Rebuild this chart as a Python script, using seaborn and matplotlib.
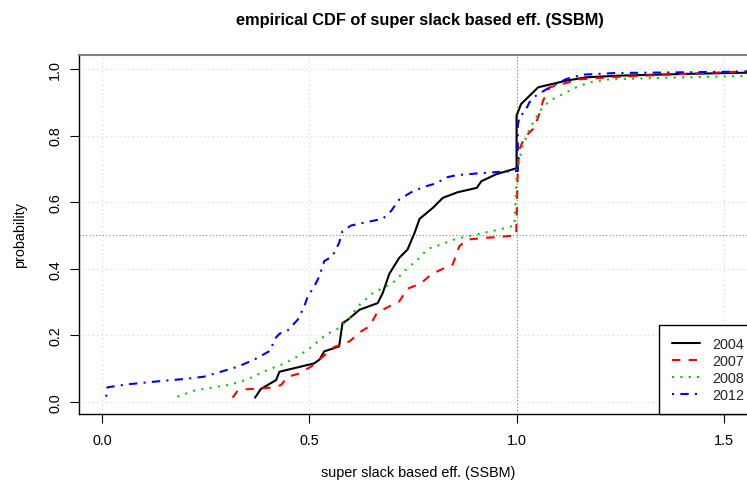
import matplotlib
matplotlib.use("Agg")
import matplotlib.pyplot as plt
import seaborn as sns
import pandas as pd

# Empirical CDF knots of super slack based efficiency (SSBM) per year
x_2004 = [0.369, 0.383, 0.42, 0.428, 0.512, 0.525, 0.536, 0.572, 0.58, 0.593, 0.621, 0.665,
          0.677, 0.693, 0.717, 0.737, 0.754, 0.766, 0.798, 0.822, 0.858, 0.904, 0.915, 0.951,
          1.0, 1.0, 1.011, 1.04, 1.052, 1.12, 1.168, 1.249, 1.4, 1.6]
p_2004 = [0.013, 0.039, 0.066, 0.091, 0.116, 0.128, 0.152, 0.167, 0.237, 0.247, 0.277, 0.297,
          0.327, 0.385, 0.433, 0.458, 0.508, 0.55, 0.583, 0.613, 0.630, 0.643, 0.663, 0.684,
          0.702, 0.86, 0.895, 0.93, 0.945, 0.965, 0.975, 0.98, 0.985, 0.99]

x_2007 = [0.315, 0.327, 0.347, 0.383, 0.415, 0.432, 0.448, 0.472, 0.504, 0.528, 0.56, 0.597,
          0.625, 0.645, 0.663, 0.685, 0.717, 0.737, 0.77, 0.794, 0.822, 0.846, 0.862, 0.882,
          0.927, 0.999, 1.003, 1.007, 1.019, 1.043, 1.056, 1.064, 1.08, 1.12, 1.152, 1.225,
          1.4, 1.6]
p_2007 = [0.013, 0.034, 0.038, 0.041, 0.044, 0.051, 0.076, 0.084, 0.106, 0.131, 0.165, 0.182,
          0.212, 0.227, 0.267, 0.282, 0.302, 0.34, 0.357, 0.383, 0.4, 0.413, 0.468, 0.488,
          0.493, 0.5, 0.699, 0.759, 0.794, 0.824, 0.869, 0.905, 0.945, 0.958, 0.969, 0.975,
          0.985, 0.995]

x_2008 = [0.182, 0.222, 0.263, 0.303, 0.335, 0.359, 0.399, 0.44, 0.464, 0.5, 0.54, 0.572,
          0.597, 0.617, 0.653, 0.701, 0.737, 0.762, 0.786, 0.818, 0.854, 0.903, 0.959, 0.995,
          1.0, 1.007, 1.015, 1.031, 1.056, 1.08, 1.112, 1.144, 1.176, 1.225, 1.4, 1.6]
p_2008 = [0.016, 0.034, 0.043, 0.051, 0.061, 0.073, 0.096, 0.116, 0.131, 0.16, 0.202, 0.222,
          0.252, 0.287, 0.327, 0.357, 0.402, 0.428, 0.46, 0.473, 0.49, 0.503, 0.518, 0.53,
          0.68, 0.729, 0.769, 0.819, 0.874, 0.905, 0.925, 0.945, 0.96, 0.969, 0.975, 0.98]

x_2012 = [0.01, 0.013, 0.061, 0.142, 0.198, 0.246, 0.287, 0.327, 0.367, 0.407, 0.415, 0.428,
          0.448, 0.472, 0.488, 0.496, 0.512, 0.524, 0.536, 0.556, 0.572, 0.58, 0.601, 0.637,
          0.677, 0.697, 0.717, 0.75, 0.782, 0.81, 0.826, 0.854, 0.911, 0.959, 1.003, 1.003,
          1.007, 1.019, 1.031, 1.047, 1.08, 1.12, 1.16, 1.241, 1.4, 1.6]
p_2012 = [0.016, 0.044, 0.053, 0.063, 0.069, 0.076, 0.091, 0.106, 0.127, 0.155, 0.187, 0.205,
          0.215, 0.247, 0.287, 0.317, 0.347, 0.377, 0.423, 0.438, 0.478, 0.513, 0.53, 0.54,
          0.55, 0.573, 0.608, 0.633, 0.648, 0.658, 0.673, 0.681, 0.687, 0.691, 0.694, 0.829,
          0.859, 0.869, 0.9, 0.92, 0.945, 0.97, 0.983, 0.988, 0.99, 0.993]

years = ["2004", "2007", "2008", "2012"]
colors = ["#000000", "#FF0000", "#00CD00", "#0000FF"]
x_ticks = [0.0, 0.5, 1.0, 1.5]
y_ticks = [0.0, 0.2, 0.4, 0.6, 0.8, 1.0]

frames = []
for yr, xs, ps in zip(years, [x_2004, x_2007, x_2008, x_2012],
                      [p_2004, p_2007, p_2008, p_2012]):
    frames.append(pd.DataFrame({"eff": xs, "prob": ps, "year": yr}))
df = pd.concat(frames, ignore_index=True)

sns.set_theme(style="white")
plt.rcParams["font.family"] = ["Liberation Sans", "DejaVu Sans"]

W, H = 747, 489
fig = plt.figure(figsize=(W / 100, H / 100), dpi=100)
ax = fig.add_axes([79 / W, 1 - 415 / H, (757 - 79) / W, (415 - 56) / H])

# reference grid and guide lines
for xv in x_ticks:
    ax.axvline(xv, color="#D3D3D3", lw=0.8, ls=(0, (1, 3)), zorder=0)
for yv in y_ticks:
    ax.axhline(yv, color="#D3D3D3", lw=0.8, ls=(0, (1, 3)), zorder=0)
ax.axvline(1.0, color="#808080", lw=0.8, ls=(0, (1, 2)), zorder=0.5)
ax.axhline(0.5, color="#808080", lw=0.8, ls=(0, (1, 2)), zorder=0.5)

dashes = {"2004": "", "2007": (4, 4), "2008": (1, 3), "2012": (1, 3, 4, 3)}
sns.lineplot(data=df, x="eff", y="prob", hue="year", style="year",
             palette=dict(zip(years, colors)), dashes=dashes,
             estimator=None, sort=True, lw=1.5, ax=ax, legend=True)

ax.set_xlim(-0.0556, 1.58)
ax.set_ylim(-0.036, 1.042)
ax.set_xticks(x_ticks)
ax.set_xticklabels([f"{v:.1f}" for v in x_ticks])
ax.set_yticks(y_ticks)
ax.set_yticklabels([f"{v:.1f}" for v in y_ticks], rotation=90, va="center")
ax.tick_params(axis="both", which="major", direction="out", length=6.2, width=0.8,
               color="black", labelsize=10.4, labelcolor="black", bottom=True, left=True)
ax.tick_params(axis="x", pad=7.5)
ax.tick_params(axis="y", pad=5.8)

for side in ["left", "bottom"]:
    ax.spines[side].set_color("black")
    ax.spines[side].set_linewidth(1.0)
ax.spines["top"].set_color("#808080")
ax.spines["top"].set_linewidth(1.5)
ax.spines["right"].set_color("black")

ax.set_xlabel("")
ax.set_ylabel("")
fig.text(418 / W, 1 - 473 / H, "super slack based eff. (SSBM)", ha="center",
         va="center", fontsize=10.4, color="black")
fig.text(20 / W, 1 - 235 / H, "probability", ha="center", va="center",
         rotation=90, fontsize=10.4, color="black")
fig.text(420 / W, 1 - 20 / H, "empirical CDF of super slack based eff. (SSBM)",
         ha="center", va="center", fontsize=11.8, fontweight="bold", color="black")

leg = ax.legend(loc="lower right", borderaxespad=0, frameon=True, fancybox=False,
                fontsize=10.4, handlelength=2.0, handletextpad=0.85, labelspacing=0.2,
                borderpad=0.85, title=None)
leg.get_frame().set_edgecolor("black")
leg.get_frame().set_linewidth(1.0)
leg.get_frame().set_facecolor("white")
leg.get_frame().set_alpha(1)

fig.savefig("out.png", dpi=100)
